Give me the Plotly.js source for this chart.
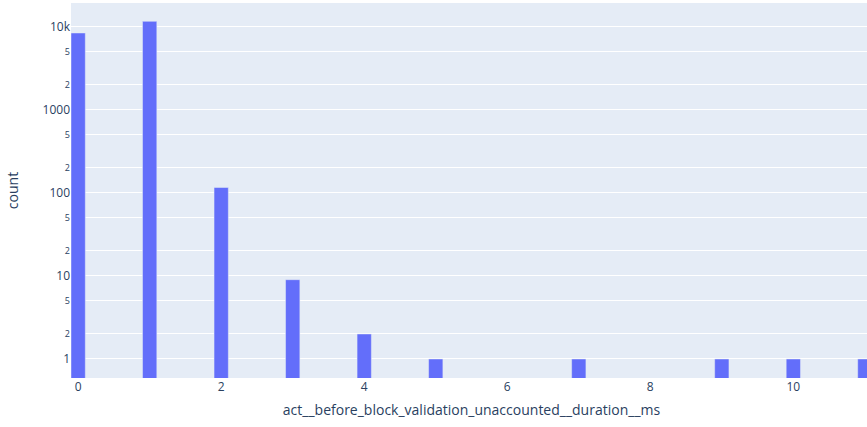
<!DOCTYPE html>
<html>
<head>
<meta charset="utf-8">
<script src="https://cdn.plot.ly/plotly-3.0.1.min.js"></script>
<style>
html, body { margin: 0; padding: 0; overflow: hidden; background: #fff; }
#chart { width: 872px; height: 427px; }
</style>
</head>
<body>
<div id="chart"></div>
<script>
const durationMs = [0, 1, 2, 3, 4, 5, 7, 9, 10, 11];
const counts = [8400, 11600, 116, 9, 2, 1, 1, 1, 1, 1];
const xTitle = "act__before_block_validation_unaccounted__duration__ms";
const yTitle = "count";

const trace = {
  type: "bar",
  x: durationMs,
  y: counts,
  width: 0.2,
  marker: { color: "#636efa", line: { color: "#E5ECF6", width: 0.5 } },
  hoverinfo: "x+y"
};

const layout = {
  width: 872,
  height: 427,
  margin: { l: 71, r: 0, t: 3, b: 49, autoexpand: false },
  paper_bgcolor: "#ffffff",
  plot_bgcolor: "#E5ECF6",
  font: { family: '"Open Sans", verdana, arial, sans-serif', size: 12, color: "#2a3f5f" },
  showlegend: false,
  bargap: 0,
  xaxis: {
    range: [-0.1, 11.1],
    dtick: 2,
    tick0: 0,
    showgrid: false,
    zeroline: false,
    title: { text: xTitle, font: { size: 14 }, standoff: 11 },
    ticks: "",
    automargin: true
  },
  yaxis: {
    type: "log",
    range: [-0.229, 4.285],
    gridcolor: "#ffffff",
    gridwidth: 1,
    zeroline: false,
    ticks: "",
    title: { text: yTitle, font: { size: 14 }, standoff: 20 },
    automargin: true
  }
};

Plotly.newPlot("chart", [trace], layout, { displayModeBar: false, staticPlot: true });
</script>
</body>
</html>
